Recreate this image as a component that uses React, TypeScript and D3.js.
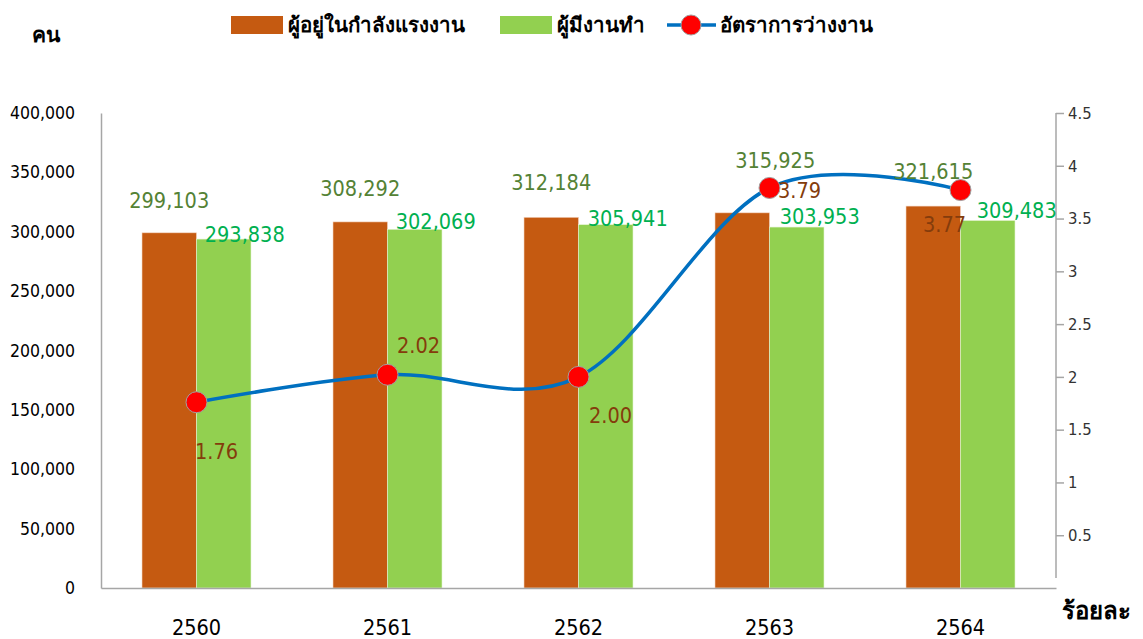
import { useEffect, useRef } from "react";
import * as d3 from "d3";

const WIDTH = 1143;
const HEIGHT = 639;
const MARGIN = { top: 113, right: 87, bottom: 51, left: 101 };

const years = ["2560", "2561", "2562", "2563", "2564"];
const labourForce = [299103, 308292, 312184, 315925, 321615];
const employed = [293838, 302069, 305941, 303953, 309483];
const unemploymentRate = [1.76, 2.02, 2.0, 3.79, 3.77];

const leftTicks = [0, 50000, 100000, 150000, 200000, 250000, 300000, 350000, 400000];
const rightTicks = [0.5, 1, 1.5, 2, 2.5, 3, 3.5, 4, 4.5];

const legendLabels = ["ผู้อยู่ในกำลังแรงงาน", "ผู้มีงานทำ", "อัตราการว่างงาน"];

// hand nudges for data labels (Excel placed them manually)
const labourNudge = [[0, -25], [0, -26], [0, -27], [33, -45], [0, -27]];
const employedNudge = [[21, 3], [21, 0], [22, 1], [23, -3], [29, -2]];
const rateNudge = [[20, 57], [31, -22], [32, 46], [30, 10], [-16, 42]];

const BROWN = "#C55A11";
const GREEN = "#92D050";
const BLUE = "#0070C0";
const FONT = "Tahoma, 'DejaVu Sans Condensed', 'Noto Sans', sans-serif";

const Chart = () => {
  const axesRef = useRef<SVGGElement>(null);
  const boundsWidth = WIDTH - MARGIN.left - MARGIN.right;
  const boundsHeight = HEIGHT - MARGIN.top - MARGIN.bottom;

  const xScale = d3.scaleBand<string>().domain(years).range([0, boundsWidth]).paddingInner(0).paddingOuter(0);
  const barScale = d3
    .scaleBand<string>()
    .domain(["labour", "employed"])
    .range([0, 109])
    .padding(0);
  const groupOffset = (xScale.bandwidth() - 109) / 2;
  const yLeft = d3.scaleLinear().domain([0, 400000]).range([boundsHeight, 0]);
  const yRight = d3.scaleLinear().domain([0, 4.5]).range([boundsHeight, 0]);

  const cx = (i: number) => (xScale(years[i]) || 0) + xScale.bandwidth() / 2;

  const line = d3
    .line<number>()
    .x((_, i) => cx(i))
    .y((d) => yRight(d))
    .curve(d3.curveCardinal.tension(0));

  useEffect(() => {
    const g = d3.select(axesRef.current);
    g.selectAll("*").remove();

    const left = g
      .append("g")
      .call(d3.axisLeft(yLeft).tickValues(leftTicks).tickSize(0).tickPadding(26).tickFormat(d3.format(",")));
    left.select(".domain").attr("stroke", "#a6a6a6").attr("stroke-width", 1.5);
    left.selectAll("text").attr("font-size", 17.5).attr("font-family", FONT).attr("fill", "#000");

    const right = g
      .append("g")
      .attr("transform", `translate(${boundsWidth},0)`)
      .call(d3.axisRight(yRight).tickValues(rightTicks).tickSize(8).tickPadding(4).tickFormat(d3.format("")));
    right.select(".domain").remove();
    right
      .append("line")
      .attr("y1", 0)
      .attr("y2", boundsHeight - 10)
      .attr("stroke", "#a6a6a6")
      .attr("stroke-width", 1.5);
    right.selectAll(".tick line").attr("stroke", "#a6a6a6").attr("stroke-width", 1.5);
    right.selectAll("text").attr("font-size", 16.5).attr("font-family", FONT).attr("fill", "#333");

    const bottom = g
      .append("g")
      .attr("transform", `translate(0,${boundsHeight})`)
      .call(d3.axisBottom(xScale).tickSize(0).tickPadding(32));
    bottom.select(".domain").attr("stroke", "#a6a6a6").attr("stroke-width", 1.5);
    bottom.selectAll("text").attr("font-size", 21.5).attr("font-family", FONT).attr("fill", "#000");
  }, []);

  return (
    <svg width={WIDTH} height={HEIGHT} style={{ display: "block", position: "absolute", left: 0, top: 0 }}>
      <rect width={WIDTH} height={HEIGHT} fill="#fff" />
      <g transform={`translate(${MARGIN.left},${MARGIN.top})`}>
        {years.map((y, i) => {
          const x0 = (xScale(y) || 0) + groupOffset;
          return (
            <g key={y}>
              <rect
                x={x0 + (barScale("labour") || 0)}
                y={yLeft(labourForce[i])}
                width={barScale.bandwidth()}
                height={boundsHeight - yLeft(labourForce[i])}
                fill={BROWN}
                stroke="#f4d6c4"
                strokeWidth={0.6}
              />
              <rect
                x={x0 + (barScale("employed") || 0)}
                y={yLeft(employed[i])}
                width={barScale.bandwidth()}
                height={boundsHeight - yLeft(employed[i])}
                fill={GREEN}
                stroke="#e4f3d2"
                strokeWidth={0.6}
              />
            </g>
          );
        })}
        <g ref={axesRef} />
        <path d={line(unemploymentRate) || ""} fill="none" stroke={BLUE} strokeWidth={3.5} />
        {unemploymentRate.map((v, i) => (
          <circle key={i} cx={cx(i)} cy={yRight(v)} r={10.5} fill="#FF0000" stroke="#a0a0a0" strokeWidth={1} />
        ))}
        {years.map((y, i) => {
          const x0 = (xScale(y) || 0) + groupOffset;
          const bw = barScale.bandwidth();
          return (
            <g key={"lab" + y} fontFamily={FONT} fontSize={21.5} textAnchor="middle">
              <text
                x={x0 + (barScale("labour") || 0) + bw / 2 + labourNudge[i][0]}
                y={yLeft(labourForce[i]) + labourNudge[i][1]}
                fill="#548235"
              >
                {d3.format(",")(labourForce[i])}
              </text>
              <text
                x={x0 + (barScale("employed") || 0) + bw / 2 + employedNudge[i][0]}
                y={yLeft(employed[i]) + employedNudge[i][1]}
                fill="#00B050"
              >
                {d3.format(",")(employed[i])}
              </text>
              <text x={cx(i) + rateNudge[i][0]} y={yRight(unemploymentRate[i]) + rateNudge[i][1]} fill="#843C0C">
                {d3.format(".2f")(unemploymentRate[i])}
              </text>
            </g>
          );
        })}
      </g>
      <g fontFamily={FONT} fontSize={21} fontWeight="bold" fill="#000">
        <text x={32} y={42}>คน</text>
        <text x={1062} y={619} fontSize={24}>ร้อยละ</text>
      </g>
      <g fontFamily={FONT} fontSize={20.5} fontWeight={600} fill="#000">
        <rect x={231} y={16} width={52} height={18} fill={BROWN} />
        <text x={288} y={32}>{legendLabels[0]}</text>
        <rect x={500} y={16} width={52} height={18} fill={GREEN} />
        <text x={557} y={32}>{legendLabels[1]}</text>
        <line x1={667} x2={716} y1={25} y2={25} stroke={BLUE} strokeWidth={3.5} />
        <circle cx={691} cy={25} r={10} fill="#FF0000" stroke="#a0a0a0" strokeWidth={1} />
        <text x={720} y={32}>{legendLabels[2]}</text>
      </g>
    </svg>
  );
};

export default function App() {
  return <Chart />;
}
